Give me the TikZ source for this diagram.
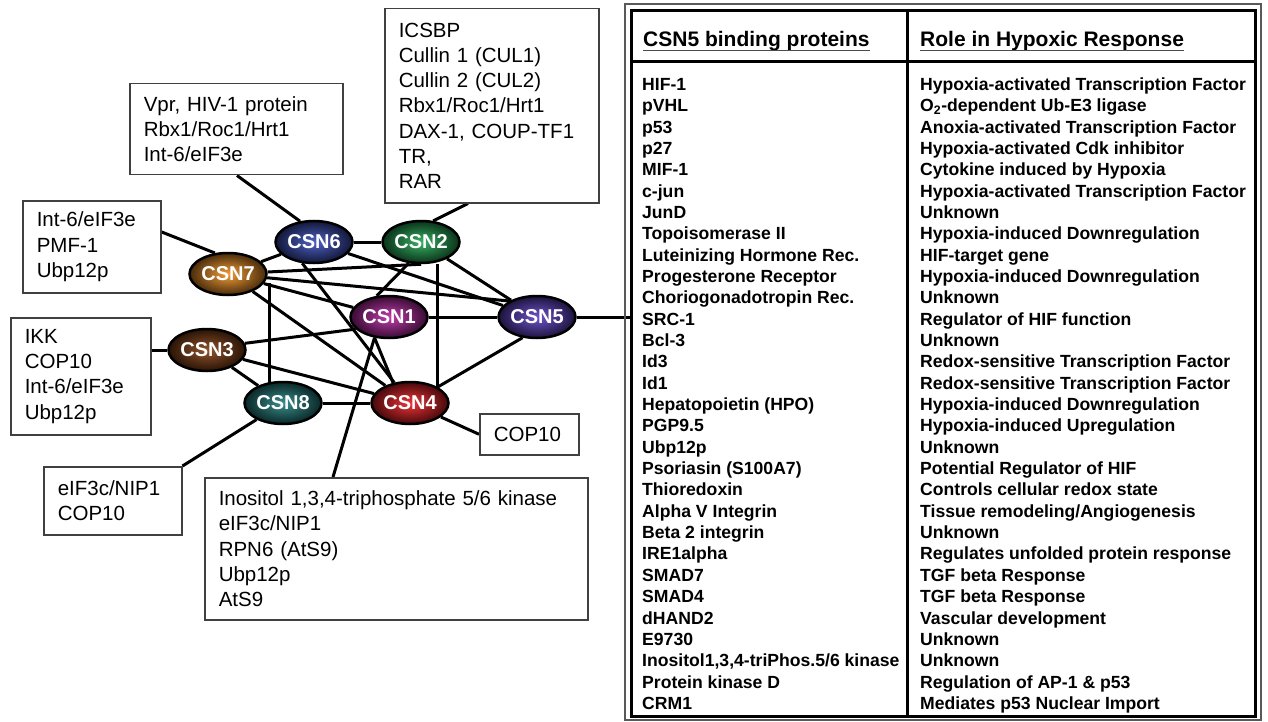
\documentclass[tikz,border=0pt]{standalone}
\usepackage{fontspec}
\setmainfont{Liberation Sans}
\usetikzlibrary{shapes.geometric,backgrounds}
\definecolor{csnone}{RGB}{185,40,165}
\definecolor{csntwo}{RGB}{35,170,85}
\definecolor{csnthree}{RGB}{135,65,20}
\definecolor{csnfour}{RGB}{235,30,35}
\definecolor{csnfive}{RGB}{95,65,200}
\definecolor{csnsix}{RGB}{60,80,190}
\definecolor{csnseven}{RGB}{240,145,35}
\definecolor{csneight}{RGB}{35,130,130}

\begin{document}
\begin{tikzpicture}[x=1pt, y=-1pt,
	csn/.style = {ellipse, draw, line width=2.5, minimum width=77, minimum height=42, inner sep=0, text=white, font=\fontsize{20}{20}\selectfont\bfseries, inner color=#1!90!white, outer color=#1!30!black},
	partner/.style = {draw=black!75, line width=1.5, anchor=north west, align=left, inner xsep=14, inner ysep=0, font=\fontsize{20.5}{25.3}\selectfont},
	head/.style = {anchor=base west, inner sep=0, font=\fontsize{21}{21}\selectfont\bfseries},
	row/.style = {anchor=base west, inner sep=0, font=\fontsize{17.6}{17.6}\selectfont\bfseries},
	link/.style = {line width=3}]
	\useasboundingbox (0,0) rectangle (1268,722);
	\node[csn=csnsix] (csn6) at (314,242) {CSN6};
	\node[csn=csntwo] (csn2) at (421,242) {CSN2};
	\node[csn=csnseven] (csn7) at (228,274) {CSN7};
	\node[csn=csnone] (csn1) at (389,317) {CSN1};
	\node[csn=csnfive] (csn5) at (537,317) {CSN5};
	\node[csn=csnthree] (csn3) at (207,350) {CSN3};
	\node[csn=csneight] (csn8) at (283,403) {CSN8};
	\node[csn=csnfour] (csn4) at (410,403) {CSN4};

	\node[partner, text width=185, minimum height=91] (vpr) at (129,83) {Vpr, HIV-1 protein\\Rbx1/Roc1/Hrt1\\Int-6/eIF3e};
	\node[partner, text width=186, minimum height=194] (icsbp) at (384,8) {ICSBP\\Cullin 1 (CUL1)\\Cullin 2 (CUL2)\\Rbx1/Roc1/Hrt1\\DAX-1, COUP-TF1\\TR,\\RAR};
	\node[partner, text width=110, minimum height=92] (int6) at (22,200) {Int-6/eIF3e\\PMF-1\\Ubp12p};
	\node[partner, text width=112, minimum height=117] (ikk) at (10,317) {IKK\\COP10\\Int-6/eIF3e\\Ubp12p};
	\node[partner, text width=110, minimum height=68] (eif) at (43,466) {eIF3c/NIP1\\COP10};
	\node[partner, text width=71, minimum height=41] (cop) at (479,413) {COP10};
	\node[partner, text width=355, minimum height=142] (inos) at (204,477) {Inositol 1,3,4-triphosphate 5/6 kinase\\eIF3c/NIP1\\RPN6 (AtS9)\\Ubp12p\\AtS9};

	% table
	\draw[black!65, line width=1.2] (625,4) rectangle (1261,720);
	\node[draw, line width=3, minimum width=624, minimum height=706, inner sep=0] (tbl) at (943.5,363.5) {};
	\draw[line width=3] (631,61.5) -- (1256,61.5);
	\draw[line width=3] (907,10) -- (907,717);
	\node[head] (h1) at (643,47) {CSN5 binding proteins};
	\node[head] (h2) at (920,47) {Role in Hypoxic Response};
	\draw[black!70, line width=1.3] ([yshift=-3.5]h1.base west) -- ([yshift=-3.5]h1.base east);
	\draw[black!70, line width=1.3] ([yshift=-3.5]h2.base west) -- ([yshift=-3.5]h2.base east);
	\foreach \t [count=\i] in {HIF-1, pVHL, p53, p27, MIF-1, c-jun, JunD, Topoisomerase II, Luteinizing Hormone Rec., Progesterone Receptor, Choriogonadotropin Rec., SRC-1, Bcl-3, Id3, Id1, Hepatopoietin (HPO), PGP9.5, Ubp12p, Psoriasin (S100A7), Thioredoxin, Alpha V Integrin, Beta 2 integrin, IRE1alpha, SMAD7, SMAD4, dHAND2, E9730, {Inositol1,3,4-triPhos.5/6 kinase}, Protein kinase D, CRM1}
		\node[row] (p\i) at (642, {90.5+21.34*(\i-1)}) {\t};
	\foreach \t [count=\i] in {Hypoxia-activated Transcription Factor, O\textsubscript{2}-dependent Ub-E3 ligase, Anoxia-activated Transcription Factor, Hypoxia-activated Cdk inhibitor, Cytokine induced by Hypoxia, Hypoxia-activated Transcription Factor, Unknown, Hypoxia-induced Downregulation, HIF-target gene, Hypoxia-induced Downregulation, Unknown, Regulator of HIF function, Unknown, Redox-sensitive Transcription Factor, Redox-sensitive Transcription Factor, Hypoxia-induced Downregulation, Hypoxia-induced Upregulation, Unknown, Potential Regulator of HIF, Controls cellular redox state, Tissue remodeling/Angiogenesis, Unknown, Regulates unfolded protein response, TGF beta Response, TGF beta Response, Vascular development, Unknown, Unknown, Regulation of AP-1 \& p53, Mediates p53 Nuclear Import}
		\node[row] (r\i) at (920, {90.5+21.34*(\i-1)}) {\t};

	\begin{pgfonlayer}{background}
		\draw[link] (csn6) -- (csn2);
		\draw[link] (csn7) -- (csn6);
		\draw[link] (csn6) -- (csn5);
		\draw[link] (csn6.241) -- (csn4);
		\draw[link] (csn2) -- (csn5);
		\draw[link] ([xshift=16]csn2.south) -- ++(0,140);
		\draw[link] (csn2.-120) -- (csn1.120);
		\draw[link] (csn7) -- (csn2.south);
		\draw[link] (csn7) -- (csn5.150);
		\draw[link] (csn7) -- (csn1);
		\draw[link] (csn7) -- (csn4);
		\draw[link] ([xshift=-14]csn8.center) -- ++(0,-120);
		\draw[link] (csn1) -- (csn5);
		\draw[link] (csn3.10) -- (csn1.200);
		\draw[link] (csn3) -- (csn4);
		\draw[link] (csn1.235) -- (csn4.130);
		\draw[link] (csn3) -- (csn8);
		\draw[link] (csn8) -- (csn4);
		\draw[link] (csn4.30) -- (csn5.235);
		\draw[link] ([xshift=108]vpr.south west) -- (csn6.124);
		\draw[link] ([xshift=84]icsbp.south west) -- (csn2.60);
		\draw[link] (int6.12) -- (csn7.122);
		\draw[link] (csn3) -- (csn3 -| ikk.east);
		\draw[link] (eif.north east) -- (csn8);
		\draw[link] (csn4) -- (cop.west);
		\draw[link] (csn1.235) -- ([xshift=129]inos.north west);
		\draw[link] (csn5) -- (csn5 -| tbl.west);
	\end{pgfonlayer}
\end{tikzpicture}
\end{document}
